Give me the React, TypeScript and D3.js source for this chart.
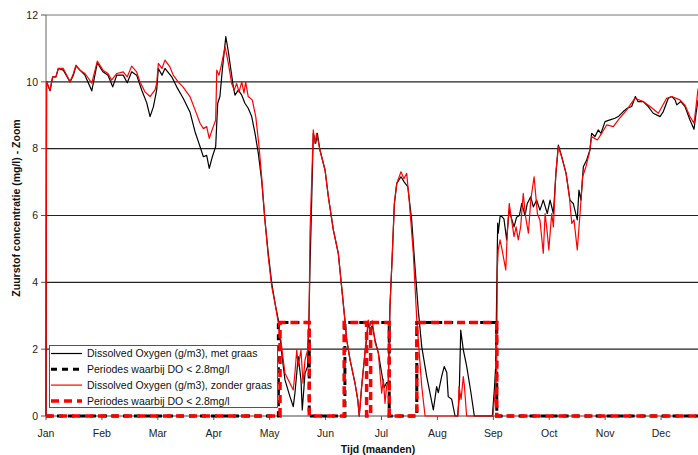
import React from 'react'
import * as d3 from 'd3'

const MONTHS = ['Jan', 'Feb', 'Mar', 'Apr', 'May', 'Jun', 'Jul', 'Aug', 'Sep', 'Oct', 'Nov', 'Dec']
const Y_TICKS = [0, 2, 4, 6, 8, 10, 12]
const DO_LIMIT = 2.8

// day of year, met graas
const metDays = [
  0, 0.3, 2.2, 3.6, 5.4, 6.7, 9.4, 13.1, 14.9, 16.3, 18.5, 21.2, 24.9, 27.9, 31.0, 33.7, 36.3, 38.5, 42.0, 44.2,
  46.6, 49.3, 52.1, 54.8, 56.6, 58.4, 60.2, 61.1, 63.1, 64.7, 68.4, 71.1, 74.7, 78.3, 81.1, 83.8, 85.6, 87.4, 88.8, 90.5,
  92.3, 93.4, 94.6, 95.9, 97.8, 99.2, 100.6, 101.9, 102.8, 104.6, 106.5, 108.2, 110.0, 111.9, 113.7, 115.5, 117.3, 119.1, 120.9, 122.8,
  124.6, 126.4, 128.2, 130.0, 132.7, 134.5, 135.4, 136.4, 137.2, 138.7, 139.4, 140.9, 142.3, 143.1, 143.6, 144.1, 145.4, 146.7, 147.6, 149.0,
  151.8, 153.6, 156.3, 159.0, 160.8, 162.6, 163.6, 165.4, 168.1, 169.6, 170.4, 171.7, 173.5, 175.3, 176.2, 177.5, 179.0, 180.8, 182.6, 184.0,
  185.3, 186.2, 187.1, 188.4, 189.5, 190.8, 193.1, 194.9, 196.8, 198.9, 200.7, 202.5, 204.4, 207.1, 210.7, 212.5, 213.4, 215.2, 216.6, 218.0,
  218.8, 220.7, 222.5, 223.9, 224.7, 225.6, 227.0, 228.8, 231.2, 233.0, 242.8, 243.9, 244.6, 245.7, 246.0, 247.0, 247.9, 249.1, 250.6, 251.9,
  253.3, 254.6, 256.0, 257.5, 258.8, 260.6, 261.8, 263.7, 265.1, 266.9, 268.7, 270.5, 272.7, 274.2, 276.0, 277.4, 278.7, 280.5, 282.9, 285.0,
  286.8, 289.0, 289.9, 291.0, 292.3, 294.1, 295.9, 296.8, 298.6, 300.4, 301.9, 304.1, 306.8, 309.5, 311.3, 314.0, 316.2, 318.6, 320.6, 322.0,
  324.9, 327.6, 330.3, 334.0, 335.8, 338.5, 340.4, 342.2, 343.1, 345.3, 347.6, 350.3, 352.5, 353.6, 354.7,
]
const metDO = [
  0, 10.0, 9.73, 10.15, 10.15, 10.4, 10.35, 10.0, 10.2, 10.48, 10.35, 10.2, 9.73, 10.57, 10.3, 10.2, 9.85, 10.2, 10.2, 9.97,
  10.3, 10.2, 9.75, 9.37, 8.96, 9.25, 9.75, 10.4, 10.2, 10.4, 10.15, 9.85, 9.5, 9.1, 8.5, 8.06, 7.76, 7.8, 7.41, 7.76,
  8.06, 9.36, 9.56, 10.35, 11.35, 10.9, 10.35, 9.85, 9.6, 9.75, 9.6, 9.36, 9.21, 8.96, 8.46, 7.86, 7.06, 5.86, 4.87, 3.97,
  3.37, 2.87, 1.88, 1.08, 0.58, 0.28, 0.68, 1.28, 1.78, 1.08, 0.18, 1.28, 1.48, 3.08, 4.47, 5.5, 8.46, 8.16, 8.46, 7.96,
  7.36, 6.56, 5.57, 4.87, 3.87, 2.87, 2.27, 1.68, 0.98, 0.48, 0, 0.88, 1.88, 2.77, 2.6, 2.7, 2.27, 1.88, 1.28, 0.85,
  1.0, 0.98, 3.27, 4.87, 6.36, 6.96, 7.16, 7.0, 6.86, 5.87, 4.47, 3.17, 2.07, 1.18, 0.18, 0.88, 0.7, 1.18, 1.48, 1.3,
  0.58, 0.5, 0, 0, 0.5, 2.57, 1.98, 1.5, 0.68, 0, 0, 0.8, 1.47, 5.77, 5.47, 5.97, 5.97, 5.9, 5.27, 6.16,
  5.9, 5.66, 5.95, 6.0, 6.36, 6.0, 6.36, 6.56, 6.26, 6.46, 6.16, 6.46, 6.06, 6.46, 6.06, 7.26, 8.11, 7.76, 7.26, 6.46,
  6.36, 5.87, 6.76, 6.46, 7.46, 7.66, 7.96, 8.46, 8.36, 8.56, 8.46, 8.81, 8.86, 8.91, 8.96, 9.11, 9.21, 9.26, 9.56, 9.41,
  9.41, 9.26, 9.06, 8.96, 9.11, 9.51, 9.56, 9.46, 9.31, 9.41, 9.26, 8.86, 8.58, 9.06, 9.46,
]

// day of year, zonder graas
const zonderDays = [
  0, 0.3, 2.2, 3.6, 5.4, 6.7, 9.4, 13.1, 14.9, 16.3, 18.5, 21.2, 24.9, 27.9, 31.0, 33.7, 35.7, 38.5, 42.0, 44.2,
  46.6, 49.3, 51.1, 53.8, 56.6, 59.3, 60.2, 61.1, 63.1, 64.7, 67.4, 69.2, 71.9, 74.5, 78.3, 81.1, 83.8, 85.6, 87.4, 88.8,
  91.0, 92.3, 92.9, 94.1, 95.2, 97.4, 99.2, 101.0, 102.4, 103.7, 105.0, 106.5, 107.7, 108.6, 110.0, 112.2, 114.1, 115.9, 117.3, 119.1,
  120.9, 122.8, 124.6, 127.3, 128.6, 130.0, 132.7, 134.5, 135.4, 136.4, 137.2, 138.7, 139.8, 140.9, 142.3, 143.1, 143.6, 145.4, 146.3, 147.2,
  149.0, 151.8, 153.6, 156.3, 159.0, 160.8, 162.6, 163.6, 165.4, 168.1, 169.6, 170.4, 171.7, 173.5, 175.3, 176.2, 177.5, 179.0, 180.8, 182.6,
  183.5, 184.4, 185.3, 186.2, 187.1, 188.4, 189.5, 190.8, 193.1, 194.7, 196.2, 197.5, 199.8, 201.7, 204.4, 206.2, 224.1, 224.7, 225.8, 227.0,
  227.6, 228.8, 243.1, 245.1, 245.5, 246.0, 247.0, 248.0, 250.1, 251.0, 252.0, 252.9, 254.6, 255.7, 256.9, 258.2, 259.6, 260.9, 262.4, 263.7,
  265.5, 267.3, 268.7, 270.5, 271.5, 272.7, 273.5, 275.1, 276.0, 277.3, 278.7, 280.5, 282.9, 284.7, 286.0, 287.2, 289.0, 290.5, 291.9, 293.7,
  295.5, 296.8, 299.9, 302.3, 305.0, 308.6, 311.3, 315.9, 320.4, 324.9, 328.6, 333.1, 337.6, 340.4, 344.8, 347.6, 350.3, 352.5, 353.6, 354.7,
]
const zonderDO = [
  0, 10.0, 9.75, 10.15, 10.15, 10.4, 10.4, 10.0, 10.25, 10.5, 10.35, 10.25, 9.96, 10.62, 10.35, 10.25, 10.05, 10.25, 10.3, 10.15,
  10.47, 10.3, 10.0, 9.7, 9.56, 9.76, 9.95, 10.55, 10.4, 10.65, 10.45, 10.2, 10.0, 9.85, 9.56, 9.16, 8.76, 8.6, 8.66, 8.31,
  8.66, 8.86, 10.35, 10.2, 10.45, 11.05, 10.55, 9.95, 9.76, 9.95, 9.7, 10.0, 9.66, 10.0, 9.56, 9.46, 8.96, 8.06, 7.16, 5.86,
  4.77, 3.87, 3.37, 2.47, 1.88, 1.28, 0.98, 0.78, 1.28, 1.97, 1.5, 1.97, 0.98, 1.68, 1.97, 2.87, 5.47, 8.56, 8.16, 8.46,
  7.96, 7.36, 6.56, 5.57, 4.87, 3.87, 2.87, 2.27, 1.68, 0.98, 0.48, 0, 0.88, 1.88, 2.87, 2.7, 2.85, 2.2, 1.88, 0.68,
  1.1, 0.38, 0.9, 0.98, 3.27, 4.87, 6.36, 6.96, 7.31, 7.1, 7.26, 6.5, 4.87, 2.87, 0.88, 0, 0, 0.88, 0.5, 1.18,
  0.9, 0, 0, 1.2, 4.4, 4.97, 5.27, 5.0, 4.37, 5.57, 6.36, 6.0, 5.37, 5.66, 5.27, 5.66, 6.66, 5.96, 5.47, 6.46,
  7.16, 6.06, 5.86, 4.87, 6.06, 5.47, 4.97, 6.06, 5.66, 7.26, 8.06, 7.76, 7.26, 6.56, 5.76, 5.87, 4.97, 6.06, 7.16, 7.46,
  7.86, 8.36, 8.26, 8.46, 8.71, 8.66, 8.86, 9.16, 9.51, 9.41, 9.26, 9.06, 9.51, 9.56, 9.46, 9.3, 8.96, 8.76, 9.26, 9.8,
]

// periods (start day, end day) where DO < 2.8 mg/l
const metPeriods = [[126.4, 143.2], [162.6, 186.7], [201.7, 245.2]]
const zonderPeriods = [[127.3, 143.2], [162.2, 174.4], [176.6, 186.7], [201.7, 245.2]]

const W = 698
const H = 455
const FONT = 'Liberation Sans, Arial, sans-serif'

function stepPoints(periods: number[][]) {
  const pts: [number, number][] = [[0, 0]]
  periods.forEach(([s, e]) => {
    pts.push([s, 0], [s, DO_LIMIT], [e, DO_LIMIT], [e, 0])
  })
  pts.push([365, 0])
  return pts
}

export default function App() {
  const x = d3.scaleLinear().domain([0, 365]).range([46, 717])
  const y = d3.scaleLinear().domain([0, 12]).range([416, 15])
  const line = d3.line<[number, number]>().x((d) => x(d[0])).y((d) => y(d[1]))

  const met = metDays.map((d, i) => [d, metDO[i]] as [number, number])
  const zonder = zonderDays.map((d, i) => [d, zonderDO[i]] as [number, number])
  const monthPos = MONTHS.map((m, i) => ({ m, day: (i * 365) / 12 }))

  const legend = [
    { label: 'Dissolved Oxygen (g/m3), met graas', color: '#000', w: 1.2, dash: null },
    { label: 'Periodes waarbij DO < 2.8mg/l', color: '#000', w: 3, dash: '6,5' },
    { label: 'Dissolved Oxygen (g/m3), zonder graas', color: '#ff0000', w: 1.2, dash: null },
    { label: 'Periodes waarbij DO < 2.8mg/l', color: '#ff0000', w: 3.5, dash: '8,5' },
  ]

  return (
    <svg width={W} height={H} style={{ position: 'absolute', left: 0, top: 0, background: '#fff' }} fontFamily={FONT}>
      {/* grid */}
      {Y_TICKS.map((t) => (
        <g key={t}>
          {t > 0 && <line x1={x(0)} x2={W} y1={y(t)} y2={y(t)} stroke={t === 12 ? '#777' : '#222'} strokeWidth={1.2} />}
          <line x1={41} x2={x(0)} y1={y(t)} y2={y(t)} stroke="#555" />
          <text x={38} y={y(t)} dy="0.35em" textAnchor="end" fontSize={10.5} fill="#222">{t}</text>
        </g>
      ))}
      <line x1={x(0)} x2={x(0)} y1={y(12)} y2={y(0)} stroke="#666" />
      <line x1={x(0)} x2={W} y1={y(0)} y2={y(0)} stroke="#444" />
      {monthPos.map(({ m, day }) => (
        <g key={m}>
          <line x1={x(day)} x2={x(day)} y1={y(0)} y2={y(0) + 4} stroke="#555" />
          <text x={x(day)} y={437} textAnchor="middle" fontSize={10.5} fill="#222">{m}</text>
        </g>
      ))}

      {/* series */}
      <path d={line(met) || ''} fill="none" stroke="#000" strokeWidth={1.2} strokeLinejoin="round" />
      <path d={line(stepPoints(metPeriods)) || ''} fill="none" stroke="#000" strokeWidth={3} strokeDasharray="6,5" />
      <path d={line(zonder) || ''} fill="none" stroke="#ff0000" strokeWidth={1.2} strokeLinejoin="round" />
      <path d={line(stepPoints(zonderPeriods)) || ''} fill="none" stroke="#ff0000" strokeWidth={3.5} strokeDasharray="8,5" />

      {/* legend */}
      <rect x={49.5} y={345.5} width={228} height={62} fill="#fff" stroke="#555" />
      {legend.map((l, i) => (
        <g key={i} transform={`translate(0,${353.5 + i * 15.8})`}>
          <line x1={51} x2={82} y1={0} y2={0} stroke={l.color} strokeWidth={l.w} strokeDasharray={l.dash || undefined} />
          <text x={87} y={0} dy="0.35em" fontSize={10.5} fill="#111">{l.label}</text>
        </g>
      ))}

      {/* axis titles */}
      <text x={378} y={453} textAnchor="middle" fontSize={10.5} fontWeight="bold" fill="#111">Tijd (maanden)</text>
      <text transform="translate(20,208) rotate(-90)" textAnchor="middle" fontSize={10.5} fontWeight="bold" fill="#111">
        Zuurstof concentratie (mg/l) - Zoom
      </text>
    </svg>
  )
}
